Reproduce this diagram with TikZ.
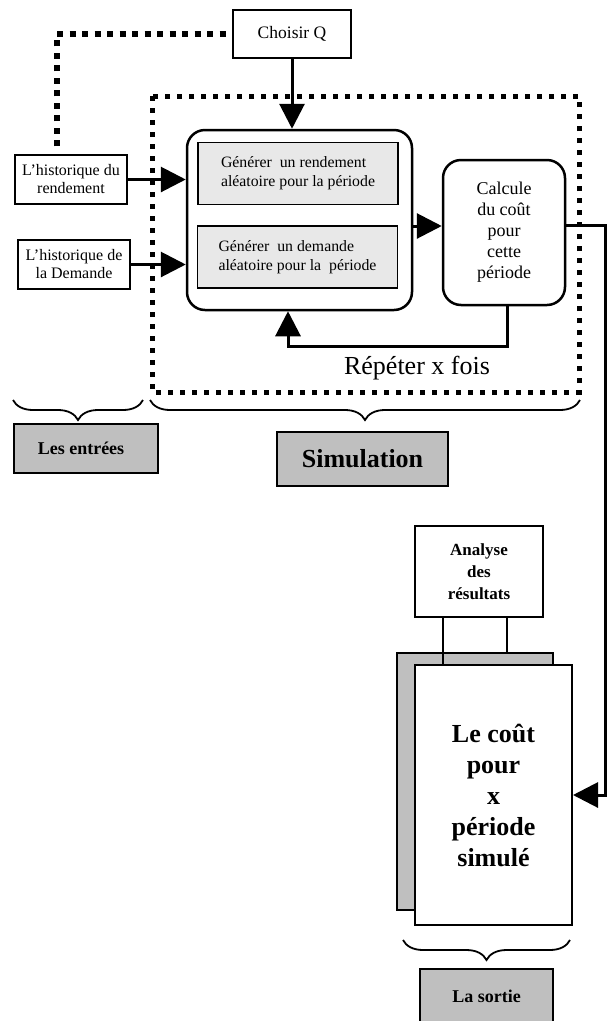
\documentclass[tikz,border=0pt]{standalone}
\usepackage{fontspec}
\setmainfont{Liberation Serif}
\usetikzlibrary{arrows.meta, decorations.pathreplacing, positioning}
\colorlet{boxgray}{black!25}
\colorlet{gengray}{black!9}
\tikzset{
  plain/.style={rectangle, draw=black, line width=1.4pt, align=center, inner sep=2pt},
  genbox/.style={rectangle, draw=black, line width=1.4pt, fill=gengray, align=left,
    minimum width=200pt, minimum height=62pt, font=\fontsize{15.8}{19}\selectfont},
  roundbox/.style={rectangle, rounded corners=18pt, draw=black, line width=2.5pt, align=center},
  tagbox/.style={rectangle, draw=black, line width=2pt, fill=boxgray, align=center},
  arrow/.style={-{Triangle[length=25pt,width=25pt]}, line width=3pt},
  dotline/.style={line width=5.5pt, dash pattern=on 6pt off 6.5pt},
  bracket/.style={decorate, decoration={brace, mirror, amplitude=20pt}, line width=1.8pt}
}

\begin{document}
\begin{tikzpicture}[x=1pt, y=-1pt]
\useasboundingbox (0,0) rectangle (607,1021);

% Inputs
\node[plain, minimum width=118pt, minimum height=48pt, font=\fontsize{17.5}{20}\selectfont] (choisir) at (292,34) {Choisir Q};
\node[plain, minimum width=112pt, minimum height=49pt, font=\fontsize{16}{18}\selectfont] (histR) at (71,179.5) {L’historique du\\rendement};
\node[plain, minimum width=112pt, minimum height=49pt, font=\fontsize{16}{18}\selectfont] (histD) at (74,264.5) {L’historique de\\la Demande};

% Simulation zone
\draw[dotline, line width=5pt, dash pattern=on 5pt off 7pt] (152,96) rectangle (579,392);
\node[roundbox, minimum width=225pt, minimum height=180pt] (gen) at (299.5,220) {};
\node[genbox] (genR) at (298,173.5) {Générer\ \ un rendement\\aléatoire pour la période};
\node[genbox] (genD) at (297.5,257) {Générer\ \ un demande\\aléatoire pour la\ \ période};
\node[roundbox, minimum width=122pt, minimum height=145pt, font=\fontsize{18}{21}\selectfont] (calc) at (504,232.5) {Calcule\\du coût\\pour\\cette\\période};
\node[font=\fontsize{26}{30}\selectfont] (repeat) at (417,368) {Répéter x fois};

% Output
\node[plain, line width=2pt, minimum width=128pt, minimum height=91pt, font=\bfseries\fontsize{17}{22}\selectfont] (analyse) at (479,571.5) {Analyse\\des\\résultats};
\node[draw, line width=2pt, fill=boxgray, minimum width=156pt, minimum height=257pt] (back) at (475,781.5) {};
\node[draw, line width=2pt, fill=white, align=center, minimum width=157pt, minimum height=260pt, font=\bfseries\fontsize{26}{31}\selectfont] (cout) at (493.5,795) {Le coût\\pour\\x\\période\\simulé};

% Labels under the braces
\draw[bracket] (13,400) -- (143,400);
\draw[bracket] (150,400) -- (580,400);
\draw[bracket] (403,940) -- (570,940);
\node[tagbox, minimum width=144pt, minimum height=49pt, font=\bfseries\fontsize{18}{20}\selectfont] (entrees) at (86,448.5) {Les entrées\hspace{10pt}};
\node[tagbox, minimum width=171pt, minimum height=54pt, font=\bfseries\fontsize{26}{30}\selectfont] (simul) at (362.5,459) {Simulation};
\node[tagbox, minimum width=133pt, minimum height=54pt, font=\bfseries\fontsize{18}{21}\selectfont] (sortie) at (486.5,996) {La sortie};

% Connectors
\draw[dotline] ([xshift=-14pt,yshift=8pt]histR.north) |- (choisir.west);
\draw[arrow] (choisir.south) -- (choisir.south |- gen.north);
\draw[arrow] (histR.east) -- (histR.east -| gen.west);
\draw[arrow] (histD.east) -- (histD.east -| gen.west);
\draw[arrow] ([yshift=-6pt]gen.east) -- ([yshift=-6pt]gen.east -| calc.west);
\coordinate (loop) at (288,346);
\draw[arrow] ([xshift=3pt]calc.south) |- (loop) -- (loop |- gen.south);
\coordinate (bend) at (605,225);
\draw[arrow] ([yshift=7.5pt]calc.east) -- (bend) |- (cout.east);
\draw[line width=1.4pt] ([xshift=-36pt]analyse.south) -- ([xshift=-36pt]analyse.south |- cout.north);
\draw[line width=1.4pt] ([xshift=28pt]analyse.south) -- ([xshift=28pt]analyse.south |- back.north);

\end{tikzpicture}
\end{document}
